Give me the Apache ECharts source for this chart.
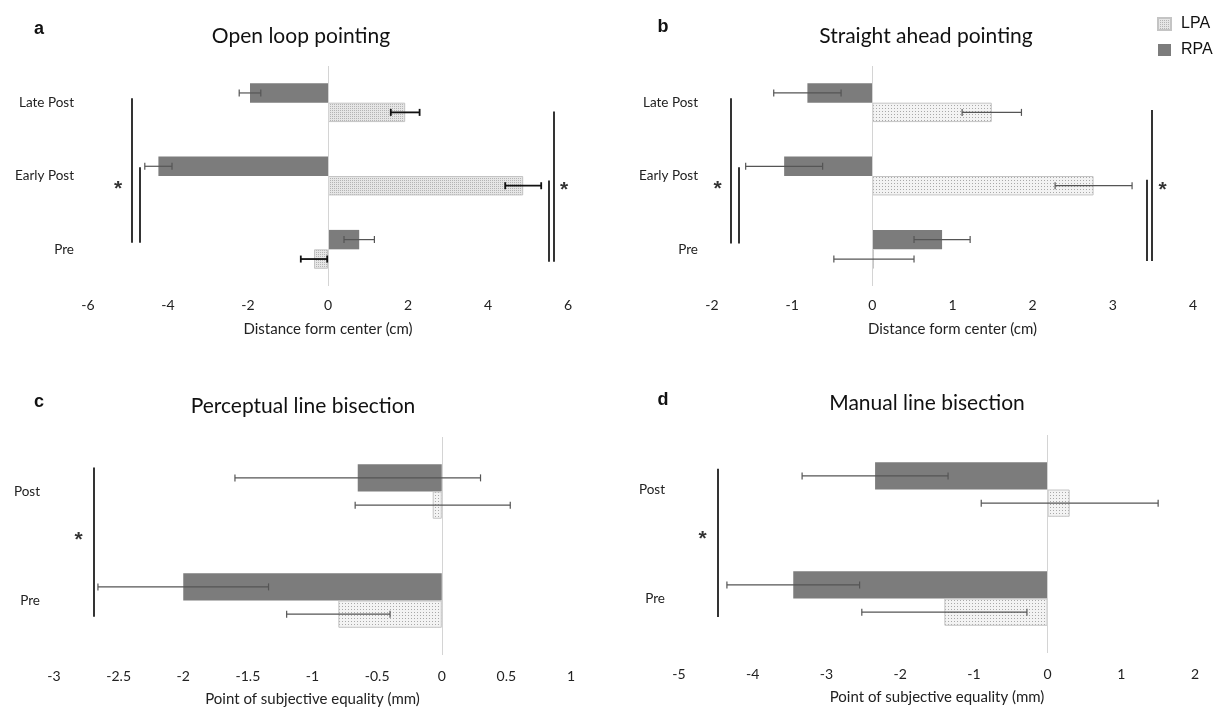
<!DOCTYPE html>
<html><head><meta charset="utf-8">
<script src="https://cdn.jsdelivr.net/npm/echarts@6/dist/echarts.min.js"></script>
<style>html,body{margin:0;padding:0;background:#fff}#c{width:1218px;height:708px}</style>
</head><body><div id="c"></div>
<script>
// ---------------- data ----------------
const catsPointing = ['Pre', 'Early Post', 'Late Post'];
const catsBisection = ['Pre', 'Post'];

// a: Open loop pointing (cm)
const openLoopLPA = [-0.35, 4.88, 1.93];
const openLoopLPAErr = [0.33, 0.45, 0.36];
const openLoopRPA = [0.78, -4.24, -1.95];
const openLoopRPAErr = [0.38, 0.34, 0.27];

// b: Straight ahead pointing (cm)
const straightLPA = [0.02, 2.76, 1.49];
const straightLPAErr = [0.50, 0.48, 0.37];
const straightRPA = [0.87, -1.10, -0.81];
const straightRPAErr = [0.35, 0.48, 0.42];

// c: Perceptual line bisection (mm)
const perceptualLPA = [-0.80, -0.07];
const perceptualLPAErr = [0.40, 0.60];
const perceptualRPA = [-2.00, -0.65];
const perceptualRPAErr = [0.66, 0.95];

// d: Manual line bisection (mm)
const manualLPA = [-1.40, 0.30];
const manualLPAErr = [1.12, 1.20];
const manualRPA = [-3.45, -2.34];
const manualRPAErr = [0.90, 0.99];

// x axis ranges (tick labels)
const ticksA = {min: -6, max: 6, interval: 2};
const ticksB = {min: -2, max: 4, interval: 1};
const ticksC = {min: -3, max: 1, interval: 0.5};
const ticksD = {min: -5, max: 2, interval: 1};

// significance brackets: [x, yFrom, yTo] in (x value, category index) units
const sigA = [[-4.91, 2.06, 0.09], [-4.70, 1.12, 0.09], [5.52, 0.94, -0.17], [5.64, 1.88, -0.17]];
const sigB = [[-1.764, 2.06, 0.08], [-1.665, 1.12, 0.08], [3.427, 0.95, -0.16], [3.487, 1.90, -0.16]];
const sigC = [[-2.69, 1.22, -0.15]];
const sigD = [[-4.47, 1.19, -0.17]];
const starsA = [[-5.25, 0.82], [5.90, 0.81]];
const starsB = [[-1.93, 0.82], [3.62, 0.81]];
const starsC = [[-2.81, 0.55]];
const starsD = [[-4.68, 0.54]];

// ---------------- styles ----------------
const FONT = 'Lato';
function makePattern(bg, dot, step) {
  const c = document.createElement('canvas');
  c.width = step; c.height = step;
  const g = c.getContext('2d');
  g.fillStyle = bg; g.fillRect(0, 0, step, step);
  g.fillStyle = dot; g.fillRect(0, 0, 1, 1);
  return {image: c, repeat: 'repeat'};
}
const patA = makePattern('#e6e6e6', '#b4b4b4', 2);
const patB = makePattern('#f3f3f3', '#a8a8a8', 3);
const RPA_COLOR = '#7c7c7c';

const chart = echarts.init(document.getElementById('c'));

const grids = [
  {left: 88, top: 66, width: 480, height: 220},
  {left: 712, top: 66, width: 481, height: 220},
  {left: 54, top: 437, width: 517, height: 218},
  {left: 679, top: 435, width: 516, height: 218}
];
const panels = [
  {cats: catsPointing, lpa: openLoopLPA, lpaErr: openLoopLPAErr, rpa: openLoopRPA, rpaErr: openLoopRPAErr,
   ticks: ticksA, sig: sigA, stars: starsA, pat: patA, name: 'Distance form center (cm)',
   lpaErrColor: '#111', lpaErrW: 1.8, rpaErrColor: '#555', rpaErrW: 1.2, barW: '26.5%', labM: 12, gap: 36},
  {cats: catsPointing, lpa: straightLPA, lpaErr: straightLPAErr, rpa: straightRPA, rpaErr: straightRPAErr,
   ticks: ticksB, sig: sigB, stars: starsB, pat: patB, name: 'Distance form center (cm)',
   lpaErrColor: '#555', lpaErrW: 1.2, rpaErrColor: '#555', rpaErrW: 1.2, barW: '26.5%', labM: 12, gap: 36},
  {cats: catsBisection, lpa: perceptualLPA, lpaErr: perceptualLPAErr, rpa: perceptualRPA, rpaErr: perceptualRPAErr,
   ticks: ticksC, sig: sigC, stars: starsC, pat: patB, name: 'Point of subjective equality (mm)',
   lpaErrColor: '#555', lpaErrW: 1.2, rpaErrColor: '#555', rpaErrW: 1.2, barW: '25%', labM: 14, gap: 37},
  {cats: catsBisection, lpa: manualLPA, lpaErr: manualLPAErr, rpa: manualRPA, rpaErr: manualRPAErr,
   ticks: ticksD, sig: sigD, stars: starsD, pat: patB, name: 'Point of subjective equality (mm)',
   lpaErrColor: '#555', lpaErrW: 1.2, rpaErrColor: '#555', rpaErrW: 1.2, barW: '25%', labM: 14, gap: 37}
];

const xAxis = [], yAxis = [], series = [];
panels.forEach((p, g) => {
  xAxis.push({
    type: 'value', gridIndex: g, min: p.ticks.min, max: p.ticks.max, interval: p.ticks.interval,
    axisLine: {show: false}, axisTick: {show: false}, splitLine: {show: false},
    axisLabel: {fontFamily: FONT, fontSize: 14, color: '#222', margin: p.labM},
    name: p.name, nameLocation: 'middle', nameGap: p.gap,
    nameTextStyle: {fontFamily: FONT, fontSize: 15, color: '#222'}
  });
  yAxis.push({
    type: 'category', gridIndex: g, data: p.cats,
    axisLine: {show: false}, axisTick: {show: false}, splitLine: {show: false},
    axisLabel: {fontFamily: FONT, fontSize: 13.5, color: '#222', margin: 14}
  });
  yAxis.push({type: 'value', gridIndex: g, min: -0.5, max: p.cats.length - 0.5, show: false});
  const ya = g * 2;
  series.push({
    name: 'RPA', type: 'bar', xAxisIndex: g, yAxisIndex: ya, data: p.rpa,
    barWidth: p.barW, barGap: '0%', itemStyle: {color: RPA_COLOR}, z: 3,
    markLine: {silent: true, symbol: 'none', label: {show: false},
      lineStyle: {color: '#d4d4d4', width: 1, type: 'solid'}, data: [{xAxis: 0}]}
  });
  series.push({
    name: 'LPA', type: 'bar', xAxisIndex: g, yAxisIndex: ya, data: p.lpa,
    barWidth: p.barW, barGap: '0%', itemStyle: {color: p.pat, borderColor: '#c4c4c4', borderWidth: 1}, z: 3
  });
  const errSeries = (vals, errs, side, color, width) => ({
    type: 'custom', xAxisIndex: g, yAxisIndex: ya, silent: true, z: 6,
    data: vals.map((v, i) => [v - errs[i], v + errs[i], i]),
    encode: {x: [0, 1], y: 2},
    renderItem: (params, api) => {
      const lo = api.coord([api.value(0), api.value(2)]);
      const hi = api.coord([api.value(1), api.value(2)]);
      const band = api.size([0, 1])[1];
      const frac = parseFloat(p.barW) / 200;
      const y = lo[1] + side * band * frac;
      const h = 3.5;
      const st = {stroke: color, lineWidth: width};
      return {type: 'group', children: [
        {type: 'line', shape: {x1: lo[0], y1: y, x2: hi[0], y2: y}, style: st},
        {type: 'line', shape: {x1: lo[0], y1: y - h, x2: lo[0], y2: y + h}, style: st},
        {type: 'line', shape: {x1: hi[0], y1: y - h, x2: hi[0], y2: y + h}, style: st}
      ]};
    }
  });
  series.push(errSeries(p.rpa, p.rpaErr, -1, p.rpaErrColor, p.rpaErrW));
  series.push(errSeries(p.lpa, p.lpaErr, 1, p.lpaErrColor, p.lpaErrW));
  series.push({
    type: 'lines', coordinateSystem: 'cartesian2d', xAxisIndex: g, yAxisIndex: ya + 1, silent: true,
    lineStyle: {color: '#000', width: 1.6, opacity: 1}, z: 7,
    data: p.sig.map(s => ({coords: [[s[0], s[1]], [s[0], s[2]]]}))
  });
  series.push({
    type: 'scatter', xAxisIndex: g, yAxisIndex: ya + 1, silent: true, symbol: 'circle', symbolSize: 2,
    itemStyle: {color: 'rgba(0,0,0,0)'}, z: 8,
    label: {show: true, position: 'inside', formatter: '*', fontFamily: 'Liberation Sans', fontSize: 21, fontWeight: 'bold', color: '#000'},
    data: p.stars
  });
});

const titleStyle = {fontFamily: FONT, fontSize: 21, fontWeight: 'normal', color: '#111'};
const letterStyle = {fontFamily: 'Liberation Sans', fontSize: 18, fontWeight: 'bold', color: '#111'};
chart.setOption({
  animation: false,
  backgroundColor: '#fff',
  title: [
    {text: 'Open loop pointing', left: 296, top: 21, textAlign: 'center', textStyle: titleStyle},
    {text: 'Straight ahead pointing', left: 921, top: 21, textAlign: 'center', textStyle: titleStyle},
    {text: 'Perceptual line bisection', left: 298, top: 391, textAlign: 'center', textStyle: titleStyle},
    {text: 'Manual line bisection', left: 922, top: 388, textAlign: 'center', textStyle: titleStyle},
    {text: 'a', left: 34, top: 15, textAlign: 'center', textStyle: letterStyle},
    {text: 'b', left: 658, top: 13, textAlign: 'center', textStyle: letterStyle},
    {text: 'c', left: 34, top: 388, textAlign: 'center', textStyle: letterStyle},
    {text: 'd', left: 658, top: 386, textAlign: 'center', textStyle: letterStyle}
  ],
  legend: {
    data: ['LPA', 'RPA'], orient: 'vertical', left: 1157, top: 16, padding: 0,
    itemWidth: 13, itemHeight: 12, itemGap: 10, icon: 'rect',
    textStyle: {fontFamily: 'Liberation Sans', fontSize: 16, color: '#111', lineHeight: 12, padding: [0, 0, 0, 5]}
  },
  grid: grids,
  xAxis: xAxis,
  yAxis: yAxis,
  series: series
});
</script></body></html>
